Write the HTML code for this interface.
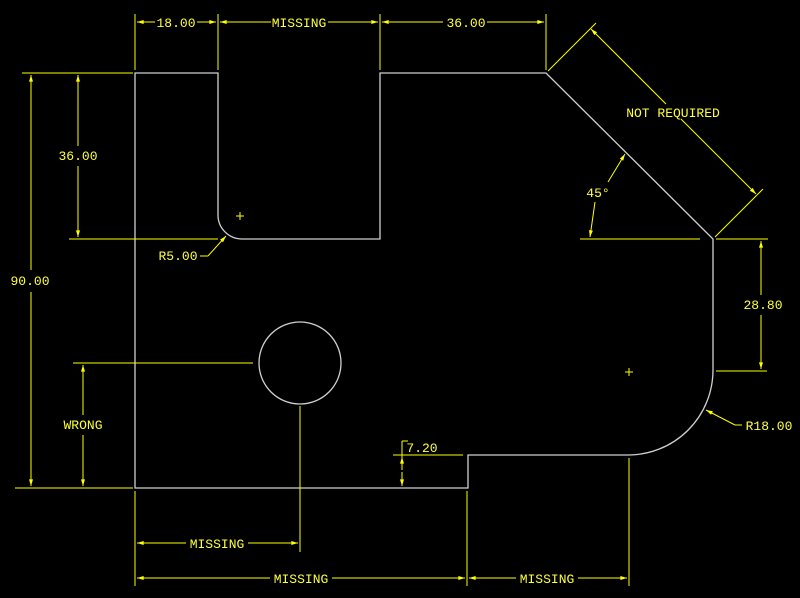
<!DOCTYPE html>
<html><head><meta charset="utf-8"><style>
html,body{margin:0;padding:0;background:#000;}
svg{display:block;}
text{font-family:"Liberation Mono",monospace;font-size:13px;fill:#ffff40;}
</style></head><body>
<svg width="800" height="598" viewBox="0 0 800 598" xmlns="http://www.w3.org/2000/svg">
<defs>
<marker id="a" viewBox="0 0 10 6" refX="10" refY="3" markerWidth="8" markerHeight="4" orient="auto-start-reverse" markerUnits="userSpaceOnUse">
<path d="M0,0 L10,3 L0,6 z" fill="#ffff00"/></marker>
</defs>
<g fill="none" stroke="#d0d0d0" stroke-width="1.3">
<path d="M135,73 L218,73 L218,215 A24,24 0 0 0 242,239 L380,239 L380,73 L546,73 L713,239 L713,370 A85,85 0 0 1 628,455 L468,455 L468,488 L135,488 Z"/>
<circle cx="300" cy="363" r="41"/>
</g>
<g stroke="#ffff00" stroke-width="1" fill="none">
<path d="M236,216h8M240,212v8M625,372h8M629,368v8"/>
<path d="M135,14V70M218,14V70M380,14V70M546,14V70"/>
<line x1="137" y1="22" x2="155" y2="22" marker-start="url(#a)"/><line x1="197" y1="22" x2="216" y2="22" marker-end="url(#a)"/>
<line x1="220" y1="22" x2="271" y2="22" marker-start="url(#a)"/><line x1="328" y1="22" x2="378" y2="22" marker-end="url(#a)"/>
<line x1="382" y1="22" x2="443" y2="22" marker-start="url(#a)"/><line x1="487" y1="22" x2="544" y2="22" marker-end="url(#a)"/>
<path d="M22,73H133M69,239H218M15,488H133M73,363H253"/>
<line x1="31" y1="75" x2="31" y2="270" marker-start="url(#a)"/><line x1="31" y1="292" x2="31" y2="486" marker-end="url(#a)"/>
<line x1="78" y1="75" x2="78" y2="146" marker-start="url(#a)"/><line x1="78" y1="166" x2="78" y2="237" marker-end="url(#a)"/>
<line x1="83" y1="365" x2="83" y2="415" marker-start="url(#a)"/><line x1="83" y1="435" x2="83" y2="486" marker-end="url(#a)"/>
<path d="M200,256H208"/><line x1="208" y1="256" x2="226" y2="236" marker-end="url(#a)"/>
<path d="M300,406V552M135,491V586M467,491V586M629,458V586"/>
<line x1="137" y1="543" x2="186" y2="543" marker-start="url(#a)"/><line x1="248" y1="543" x2="298" y2="543" marker-end="url(#a)"/>
<line x1="137" y1="578" x2="270" y2="578" marker-start="url(#a)"/><line x1="332" y1="578" x2="465" y2="578" marker-end="url(#a)"/>
<line x1="469" y1="578" x2="516" y2="578" marker-start="url(#a)"/><line x1="578" y1="578" x2="627" y2="578" marker-end="url(#a)"/>
<path d="M393,455H463M402,441V470M402,441H408"/>
<line x1="402" y1="470" x2="402" y2="457" marker-end="url(#a)"/>
<line x1="402" y1="472" x2="402" y2="486" marker-end="url(#a)"/>
<path d="M716,239H768M716,371H767"/>
<line x1="761" y1="241" x2="761" y2="295" marker-start="url(#a)"/><line x1="761" y1="315" x2="761" y2="369" marker-end="url(#a)"/>
<path d="M735,425H742"/><line x1="735" y1="425" x2="706" y2="410" marker-end="url(#a)"/>
<path d="M548,71L596,23M715,237L763,189"/>
<line x1="591" y1="29" x2="666" y2="104" marker-start="url(#a)"/><line x1="681" y1="119" x2="756" y2="194" marker-end="url(#a)"/>
<path d="M580,239H700"/>
<line x1="608" y1="182" x2="625" y2="154" marker-end="url(#a)"/>
<line x1="595" y1="202" x2="590" y2="237" marker-end="url(#a)"/>
</g>
<g text-anchor="middle">
<text x="176" y="27">18.00</text>
<text x="299" y="27">MISSING</text>
<text x="466" y="27">36.00</text>
<text x="30" y="285">90.00</text>
<text x="78" y="160">36.00</text>
<text x="178" y="260">R5.00</text>
<text x="83" y="429">WRONG</text>
<text x="217" y="548">MISSING</text>
<text x="301" y="583">MISSING</text>
<text x="547" y="583">MISSING</text>
<text x="422" y="452">7.20</text>
<text x="763" y="309">28.80</text>
<text x="769" y="430">R18.00</text>
<text x="673" y="117">NOT REQUIRED</text>
<text x="598" y="197">45°</text>
</g>
</svg>
</body></html>
